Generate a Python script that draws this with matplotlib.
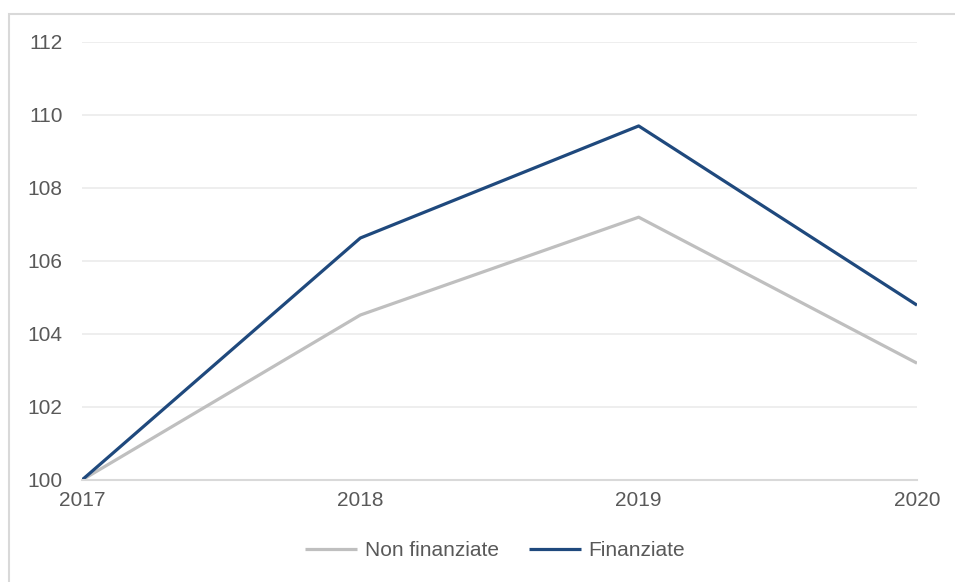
import matplotlib
matplotlib.use("Agg")
import matplotlib.pyplot as plt
from matplotlib.patches import Rectangle

years = [2017, 2018, 2019, 2020]
non_finanziate = [100.0, 104.52, 107.2, 103.2]
finanziate = [100.0, 106.63, 109.70, 104.79]
yticks = [100, 102, 104, 106, 108, 110, 112]

plt.rcParams['font.family'] = ['Liberation Sans', 'DejaVu Sans']
W, H = 955, 582
fig = plt.figure(figsize=(W/100, H/100), dpi=100)
fig.patches.append(Rectangle((9/W, -0.1), 1.2, 1 - 14/H + 0.1, transform=fig.transFigure,
                             fill=False, edgecolor='#D9D9D9', linewidth=1.5))
ax = fig.add_axes([82/W, 1 - 480/H, (917-82)/W, (480-42)/H])
ax.plot(years, non_finanziate, color='#BFBFBF', linewidth=2.3, label='Non finanziate', solid_capstyle='butt')
ax.plot(years, finanziate, color='#1F497D', linewidth=2.3, label='Finanziate', solid_capstyle='butt')
ax.set_xlim(2017, 2020)
ax.set_ylim(100, 112)
ax.set_yticks(yticks)
ax.set_xticks(years)
ax.grid(axis='y', color='#EBEBEB', linewidth=1.2)
ax.set_axisbelow(True)
for s in ['top', 'right', 'left']:
    ax.spines[s].set_visible(False)
ax.spines['bottom'].set_color('#D9D9D9')
ax.spines['bottom'].set_linewidth(1.5)
ax.tick_params(axis='both', length=0, labelsize=15, labelcolor='#595959')
ax.tick_params(axis='y', pad=14)
ax.tick_params(axis='x', pad=8)
leg = fig.legend(loc='center', bbox_to_anchor=(495/W, 1 - 551/H), ncol=2, frameon=False,
                 fontsize=15, labelcolor='#595959', handlelength=2.5, handletextpad=0.35,
                 columnspacing=1.45)
fig.savefig('out.png', dpi=100)
